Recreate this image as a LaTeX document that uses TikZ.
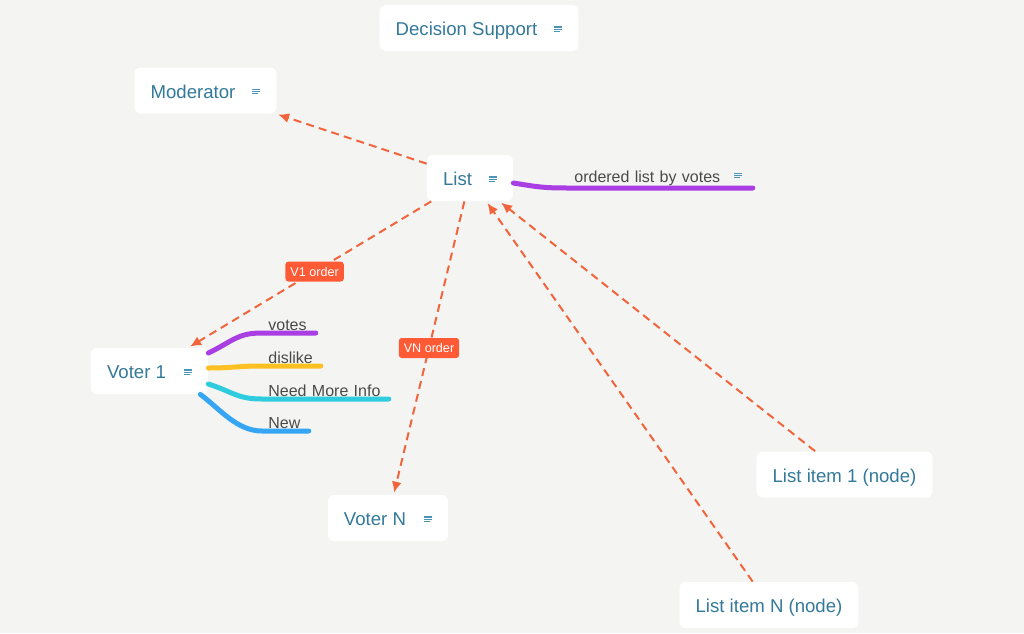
\documentclass[tikz,border=0pt]{standalone}
\usepackage{fontspec}
\setmainfont{Liberation Sans}
\usetikzlibrary{arrows.meta}

\definecolor{bgcol}{HTML}{F4F5F3}
\definecolor{topictext}{HTML}{33799A}
\definecolor{iconcol}{HTML}{4C93B8}
\definecolor{leaftext}{HTML}{4A4A4A}
\definecolor{linkcol}{HTML}{F2643C}
\definecolor{tagcol}{HTML}{FF5A36}
\definecolor{cpurple}{HTML}{A93EE3}
\definecolor{cyellow}{HTML}{FFC024}
\definecolor{ccyan}{HTML}{2ECCDE}
\definecolor{cblue}{HTML}{35A5F4}

% small "notes" mark next to a topic
\newcommand{\noteicon}{\textcolor{iconcol}{\raisebox{1.9pt}{\vbox{\hrule width 4pt height 0.6pt \vskip0.5pt
  \hrule width 4pt height 0.6pt \vskip0.5pt \hrule width 3pt height 0.6pt}}}}

\begin{document}
\begin{tikzpicture}[x=0.5pt,y=-0.5pt]
  \tikzset{>={Latex[length=5.5pt,width=5pt]}}
  \tikzset{
    topic/.style={fill=white,rounded corners=3pt,minimum height=23pt,inner xsep=8pt,
      text height=8.3pt,text depth=0.6pt,text=topictext,font=\fontsize{9.3}{11}\selectfont},
    link/.style={->,draw=linkcol,line width=1pt,dash pattern=on 4pt off 2.6pt,shorten >=1pt},
    tag/.style={fill=tagcol,text=white,rounded corners=1.5pt,inner xsep=2.5pt,inner ysep=0pt,
      minimum height=10pt,solid,font=\fontsize{6.3}{7}\selectfont},
    leaf/.style={anchor=south west,inner xsep=3pt,inner ysep=1pt,align=left,
      text=leaftext,font=\fontsize{8}{9}\selectfont},
    branch/.style={line width=2.5pt,line cap=round}
  }

  \fill[bgcol] (0,0) rectangle (1024,633);

  \node[topic] (support) at (479,28) {Decision Support\hspace{8.5pt}\noteicon};
  \node[topic] (moderator) at (205.5,90.5) {Moderator\hspace{8.5pt}\noteicon};
  \node[topic] (list) at (470,178) {List\hspace{8.5pt}\noteicon};
  \node[topic] (voter1) at (149.5,371) {Voter 1\hspace{9pt}\noteicon};
  \node[topic] (voterN) at (388,518) {Voter N\hspace{9pt}\noteicon};
  \node[topic] (item1) at (844.5,474.5) {List item 1 (node)};
  \node[topic] (itemN) at (769,605) {List item N (node)};

  \node[leaf,text width=86pt] (ordered) at (568,188) {ordered list by votes\hspace{7pt}\noteicon};
  \node[leaf,text width=20.5pt] (votes) at (262,333) {votes};
  \node[leaf,text width=23pt] (dislike) at (262,366) {dislike};
  \node[leaf,text width=57pt] (moreinfo) at (262,399) {Need More Info};
  \node[leaf,text width=17pt] (new) at (262,431) {New};

  \draw[branch,cpurple] ([yshift=-2.5pt]list.east) .. controls +(25,4) and +(-25,0) .. (ordered.south west) -- (ordered.south east);
  \draw[branch,cpurple] ([yshift=9pt]voter1.east) .. controls +(25,-12) and +(-25,0) .. (votes.south west) -- (votes.south east);
  \draw[branch,cyellow] ([yshift=1.5pt]voter1.east) .. controls +(25,0) and +(-25,0) .. (dislike.south west) -- (dislike.south east);
  \draw[branch,ccyan] ([yshift=-6.5pt]voter1.east) .. controls +(25,8) and +(-25,0) .. (moreinfo.south west) -- (moreinfo.south east);
  \draw[branch,cblue] ([xshift=-4pt]voter1.south east) .. controls +(20,15) and +(-25,0) .. (new.south west) -- (new.south east);

  \draw[link] (list) -- (moderator);
  \draw[link] (list) -- node[tag,pos=0.48] (v1tag) {V1 order} (voter1);
  \draw[link] (list) -- node[tag,pos=0.5] (vntag) {VN order} (voterN);
  \draw[link] (item1) -- (list);
  \draw[link] (itemN) -- (list);

\end{tikzpicture}
\end{document}
